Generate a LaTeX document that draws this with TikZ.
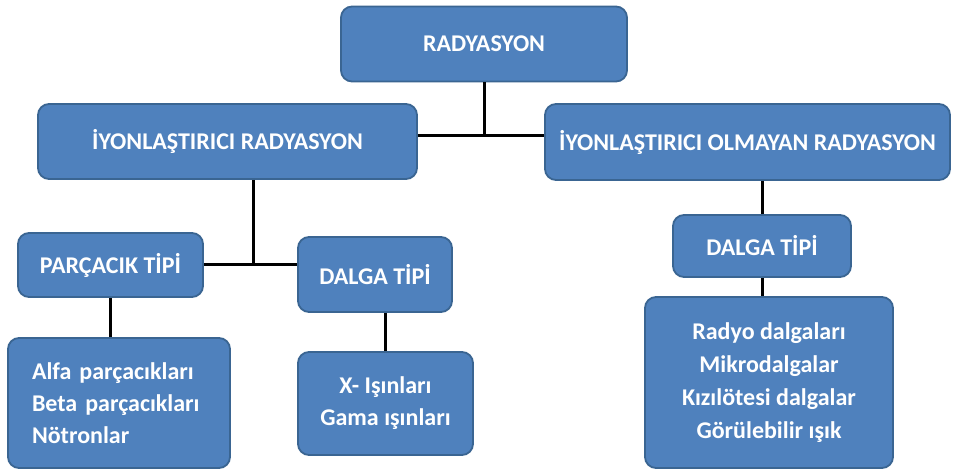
\documentclass[tikz,border=0pt]{standalone}
\usepackage{fontspec}
\setmainfont{Carlito}
\definecolor{boxfill}{HTML}{4F81BD}
\definecolor{boxline}{HTML}{3A6592}
\begin{document}
\begin{tikzpicture}[x=1pt,y=-1pt,
  box/.style={draw=boxline, line width=1.8pt, fill=boxfill, rounded corners=11pt,
    text=white, font=\bfseries\fontsize{24}{32}\selectfont, inner sep=0pt, align=center},
  conn/.style={line width=3pt, black}]
\useasboundingbox[fill=white] (0,0) rectangle (953,470);
\node[box, minimum width=286pt, minimum height=75pt] (rad) at (484,44) {RADYASYON};
\node[box, minimum width=379pt, minimum height=75pt] (ir) at (227.5,141.5) {İYONLAŞTIRICI RADYASYON};
\node[box, minimum width=405pt, minimum height=76pt] (ior) at (747.5,142) {İYONLAŞTIRICI OLMAYAN RADYASYON};
\node[box, minimum width=185pt, minimum height=64pt] (parc) at (110.5,265) {PARÇACIK TİPİ};
\node[box, minimum width=154pt, minimum height=75pt] (dal1) at (375,274.5) {DALGA TİPİ};
\node[box, minimum width=178pt, minimum height=62pt] (dal2) at (762,246) {DALGA TİPİ};
\node[box, minimum width=222pt, minimum height=130pt, text width=174pt, align=left] (l1) at (119,403) {Alfa parçacıkları\\Beta parçacıkları\\Nötronlar};
\node[box, minimum width=175pt, minimum height=103pt] (l2) at (385.5,403.5) {X- Işınları\\Gama ışınları};
\node[box, minimum width=248pt, minimum height=171pt, font=\bfseries\fontsize{24}{33}\selectfont] (l3) at (769,382.5) {Radyo dalgaları\\Mikrodalgalar\\Kızılötesi dalgalar\\Görülebilir ışık};
\coordinate (j1) at (484,136);
\coordinate (j2) at (253,265);
\draw[conn] (rad.south) -- (j1);
\draw[conn] (ir.east |- j1) -- (ior.west |- j1);
\draw[conn] (ir.south -| j2) -- (j2);
\draw[conn] (parc.east) -- (dal1.west |- parc.east);
\draw[conn] (dal2.north) -- (dal2.north |- ior.south);
\draw[conn] (dal2.south) -- (dal2.south |- l3.north);
\draw[conn] (l1.north -| parc.south) -- (parc.south);
\draw[conn] (l2.north) -- (l2.north |- dal1.south);
\end{tikzpicture}
\end{document}
